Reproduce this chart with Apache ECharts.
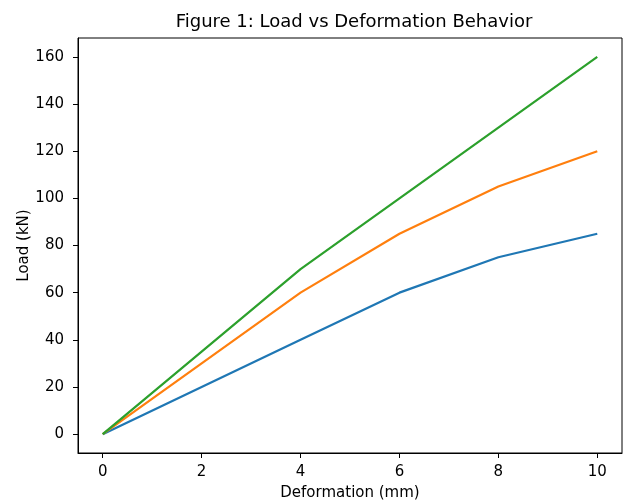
<!DOCTYPE html>
<html>
<head>
<meta charset="utf-8">
<script src="https://cdn.jsdelivr.net/npm/echarts@6/dist/echarts.min.js"></script>
<style>html,body{margin:0;padding:0;background:#fff}#c{width:626px;height:502px}</style>
</head>
<body>
<div id="c"></div>
<script>
const deformation = [0, 2, 4, 6, 8, 10];
const seriesA = [0, 20, 40, 60, 75, 85];
const seriesB = [0, 30, 60, 85, 105, 120];
const seriesC = [0, 35, 70, 100, 130, 160];
const xTicks = [0, 2, 4, 6, 8, 10];
const yTicks = [0, 20, 40, 60, 80, 100, 120, 140, 160];
const colors = ['#1f77b4', '#ff7f0e', '#2ca02c'];

const font = 'DejaVu Sans';
const chart = echarts.init(document.getElementById('c'), null, {renderer: 'canvas'});
function pairs(ys) { return deformation.map((x, i) => [x, ys[i]]); }
const axisCommon = {
  axisLine: {show: true, onZero: false, lineStyle: {color: '#000', width: 1}},
  axisTick: {show: true, length: 5, lineStyle: {color: '#000', width: 1}},
  splitLine: {show: false},
  nameMoveOverlap: false,
  nameTextStyle: {fontFamily: font, fontSize: 15, color: '#000'}
};
chart.setOption({
  animation: false,
  title: {
    text: 'Figure 1: Load vs Deformation Behavior',
    left: 349, textAlign: 'center', top: 8,
    textStyle: {fontFamily: font, fontSize: 18, fontWeight: 'normal', color: '#000'}
  },
  grid: {left: 78, right: 4, top: 38, bottom: 49, show: true, borderColor: '#000', borderWidth: 1,
         containLabel: false, outerBoundsMode: 'none'},
  xAxis: Object.assign({}, axisCommon, {
    type: 'value', min: -0.5, max: 10.5,
    name: 'Deformation (mm)', nameLocation: 'middle', nameGap: 33,
    axisTick: Object.assign({}, axisCommon.axisTick, {customValues: xTicks}),
    axisLabel: {customValues: xTicks, margin: 12, fontFamily: font, fontSize: 15, color: '#000'}
  }),
  yAxis: Object.assign({}, axisCommon, {
    type: 'value', min: -8, max: 168,
    name: 'Load (kN)', nameLocation: 'middle', nameGap: 46, nameRotate: 90,
    axisTick: Object.assign({}, axisCommon.axisTick, {customValues: yTicks}),
    axisLabel: {customValues: yTicks, margin: 14, fontFamily: font, fontSize: 15, color: '#000'}
  }),
  series: [seriesA, seriesB, seriesC].map((ys, i) => ({
    type: 'line', data: pairs(ys), showSymbol: false, symbol: 'none',
    lineStyle: {color: colors[i], width: 2.2}, itemStyle: {color: colors[i]}
  }))
});
</script>
</body>
</html>
